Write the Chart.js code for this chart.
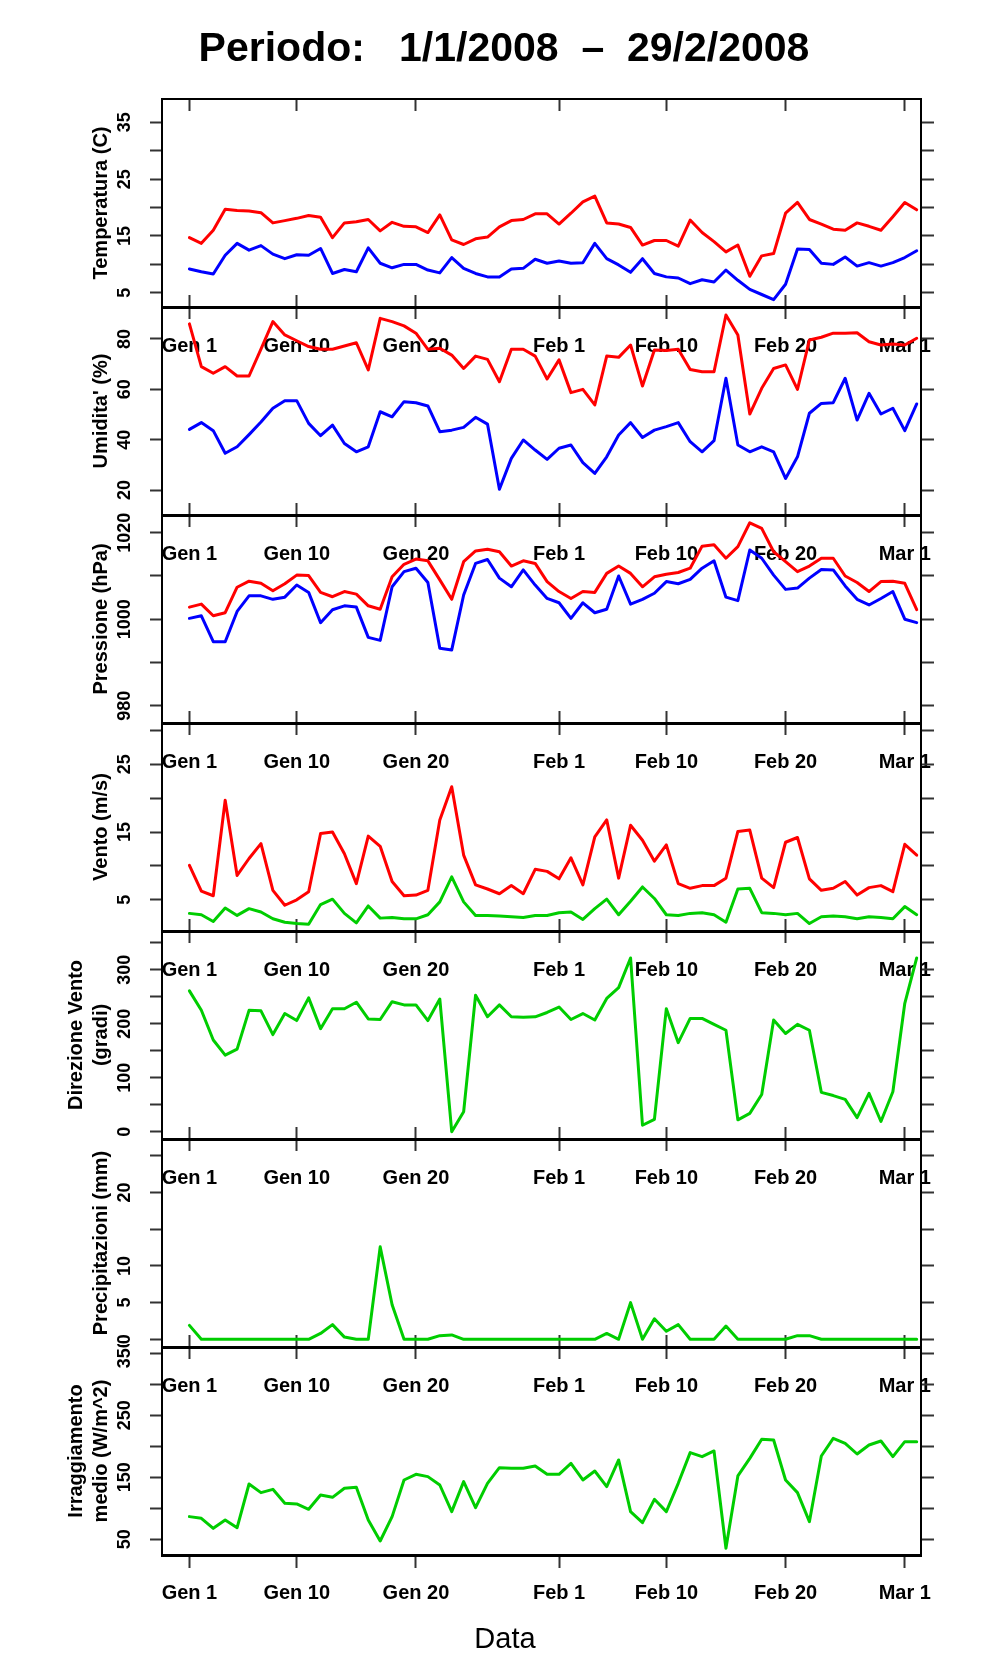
<!DOCTYPE html>
<html><head><meta charset="utf-8">
<script src="https://cdn.jsdelivr.net/npm/chart.js@4.4.1/dist/chart.umd.min.js"></script>
<style>
html,body{margin:0;padding:0;background:#fff;}
#wrap{position:relative;width:996px;height:1680px;overflow:hidden;background:#fff;}
#wrap canvas{position:absolute;left:0;}
</style></head><body><div id="wrap"></div>
<script>
// ---------- DATA ----------
const mainTitle = 'Periodo:   1/1/2008  \u2013  29/2/2008';
const xTitle = 'Data';
const tickDays = [0, 9, 19, 31, 40, 50, 60];
const tickLabels = ['Gen 1', 'Gen 10', 'Gen 20', 'Feb 1', 'Feb 10', 'Feb 20', 'Mar 1'];

const tempMax = [14.7, 13.7, 16.0, 19.7, 19.5, 19.4, 19.1, 17.3, 17.7, 18.1, 18.6, 18.3, 14.7, 17.3, 17.5, 17.9, 15.9, 17.4, 16.7, 16.6, 15.6, 18.7, 14.3, 13.5, 14.5, 14.8, 16.6, 17.7, 17.9, 18.9, 18.9, 17.1, 19.0, 21.0, 22.0, 17.3, 17.1, 16.5, 13.4, 14.2, 14.2, 13.2, 17.8, 15.6, 14.0, 12.2, 13.4, 7.9, 11.5, 11.9, 19.0, 20.9, 17.9, 17.1, 16.2, 16.0, 17.3, 16.7, 16.0, 18.4, 20.9, 19.6];
const tempMin = [9.2, 8.7, 8.3, 11.6, 13.7, 12.5, 13.3, 11.8, 11.0, 11.7, 11.6, 12.8, 8.4, 9.1, 8.7, 12.9, 10.2, 9.4, 10.0, 10.0, 9.0, 8.5, 11.2, 9.3, 8.4, 7.8, 7.8, 9.2, 9.3, 10.9, 10.2, 10.6, 10.2, 10.3, 13.7, 11.0, 9.9, 8.6, 11.0, 8.4, 7.8, 7.6, 6.6, 7.3, 6.9, 9.0, 7.2, 5.6, 4.7, 3.8, 6.5, 12.7, 12.6, 10.2, 10.0, 11.3, 9.7, 10.3, 9.7, 10.3, 11.2, 12.4];
const humMax = [86.0, 69.0, 66.4, 69.0, 65.3, 65.3, 76.0, 86.9, 81.6, 79.3, 77.0, 75.9, 75.9, 77.2, 78.5, 67.7, 88.2, 86.9, 85.2, 82.3, 75.9, 76.3, 73.6, 68.3, 73.2, 71.9, 63.0, 75.9, 75.9, 73.2, 64.1, 71.7, 58.7, 60.0, 53.8, 73.2, 72.7, 77.6, 61.3, 75.6, 75.4, 75.9, 67.9, 67.0, 67.0, 89.5, 81.6, 50.2, 60.4, 68.3, 69.7, 60.0, 79.6, 80.7, 82.3, 82.3, 82.5, 78.9, 77.6, 78.0, 77.6, 80.3];
const humMin = [44.1, 46.8, 43.6, 34.6, 37.2, 42.0, 47.0, 52.5, 55.5, 55.5, 46.5, 41.6, 45.8, 38.5, 35.2, 37.2, 51.1, 49.1, 55.1, 54.7, 53.4, 43.2, 43.8, 44.9, 48.9, 46.2, 20.3, 32.6, 39.9, 35.9, 32.2, 36.6, 37.9, 30.9, 26.6, 33.2, 41.9, 46.8, 40.9, 43.8, 45.2, 46.8, 39.2, 35.2, 39.6, 64.4, 37.9, 35.2, 37.2, 35.2, 24.6, 33.2, 50.5, 54.4, 54.7, 64.4, 47.8, 58.4, 50.2, 52.5, 43.6, 54.2];
const presMax = [1002.8, 1003.5, 1000.8, 1001.5, 1007.4, 1008.8, 1008.3, 1006.6, 1008.2, 1010.2, 1010.1, 1006.2, 1005.2, 1006.4, 1005.8, 1003.1, 1002.3, 1009.8, 1012.7, 1013.9, 1013.5, 1009.1, 1004.6, 1013.3, 1015.8, 1016.2, 1015.6, 1012.3, 1013.5, 1012.9, 1008.7, 1006.4, 1004.8, 1006.4, 1006.2, 1010.6, 1012.3, 1010.6, 1007.5, 1009.8, 1010.4, 1010.8, 1011.8, 1016.9, 1017.2, 1014.1, 1016.8, 1022.3, 1021.0, 1015.6, 1013.3, 1011.0, 1012.3, 1014.1, 1014.1, 1010.0, 1008.5, 1006.4, 1008.7, 1008.8, 1008.3, 1002.2];
const presMin = [1000.2, 1000.8, 994.8, 994.8, 1001.8, 1005.4, 1005.4, 1004.6, 1005.1, 1007.9, 1006.2, 999.2, 1002.2, 1003.1, 1002.8, 995.8, 995.1, 1007.5, 1011.0, 1011.8, 1008.5, 993.3, 992.9, 1005.6, 1012.9, 1013.8, 1009.5, 1007.5, 1011.4, 1007.9, 1004.8, 1003.8, 1000.2, 1003.8, 1001.5, 1002.3, 1010.0, 1003.5, 1004.6, 1006.0, 1008.7, 1008.2, 1009.2, 1011.8, 1013.5, 1005.1, 1004.3, 1016.0, 1014.1, 1010.2, 1006.9, 1007.2, 1009.5, 1011.5, 1011.4, 1007.7, 1004.6, 1003.3, 1004.8, 1006.4, 1000.0, 999.2];
const windMax = [10.1, 6.3, 5.6, 19.7, 8.6, 11.1, 13.3, 6.4, 4.2, 5.0, 6.2, 14.8, 15.0, 11.8, 7.4, 14.4, 12.9, 7.7, 5.6, 5.7, 6.4, 16.8, 21.7, 11.6, 7.2, 6.6, 5.9, 7.1, 5.9, 9.5, 9.2, 8.1, 11.2, 7.2, 14.3, 16.8, 8.2, 16.0, 13.8, 10.7, 13.1, 7.4, 6.7, 7.1, 7.1, 8.2, 15.1, 15.3, 8.2, 6.8, 13.5, 14.2, 8.1, 6.4, 6.7, 7.7, 5.7, 6.8, 7.1, 6.2, 13.2, 11.6];
const windAvg = [3.0, 2.8, 1.8, 3.8, 2.7, 3.7, 3.2, 2.2, 1.7, 1.5, 1.4, 4.3, 5.1, 3.0, 1.6, 4.1, 2.3, 2.4, 2.2, 2.2, 2.8, 4.7, 8.4, 4.7, 2.7, 2.7, 2.6, 2.5, 2.4, 2.7, 2.7, 3.1, 3.2, 2.1, 3.7, 5.1, 2.8, 4.8, 6.9, 5.2, 2.8, 2.7, 3.0, 3.1, 2.8, 1.7, 6.6, 6.7, 3.1, 3.0, 2.8, 3.0, 1.5, 2.5, 2.6, 2.5, 2.2, 2.5, 2.4, 2.2, 4.0, 2.8];
const windDir = [261, 225, 170, 142, 153, 225, 224, 180, 219, 206, 248, 191, 228, 228, 240, 209, 208, 241, 235, 235, 206, 246, 0, 37, 253, 213, 235, 213, 212, 213, 221, 231, 208, 219, 207, 247, 267, 322, 12, 23, 228, 165, 210, 210, 199, 188, 22, 34, 69, 207, 182, 199, 188, 73, 67, 60, 26, 71, 19, 74, 238, 322];
const precip = [1.9, 0, 0, 0, 0, 0, 0, 0, 0, 0, 0, 0.8, 2.0, 0.3, 0, 0, 12.6, 4.7, 0, 0, 0, 0.5, 0.6, 0, 0, 0, 0, 0, 0, 0, 0, 0, 0, 0, 0, 0.8, 0, 5.0, 0, 2.8, 1.1, 2.0, 0, 0, 0, 1.8, 0, 0, 0, 0, 0, 0.5, 0.5, 0, 0, 0, 0, 0, 0, 0, 0, 0];
const irrad = [86.6, 83.9, 67.7, 81.2, 68.8, 139.2, 125.3, 130.6, 108.1, 107.0, 98.4, 121.5, 117.7, 132.3, 133.9, 81.2, 47.3, 86.6, 145.7, 154.8, 151.1, 137.6, 94.6, 143.0, 101.1, 140.3, 165.6, 164.5, 164.5, 168.3, 154.8, 154.8, 172.6, 145.7, 160.2, 135.1, 178.0, 94.6, 76.9, 114.5, 94.6, 140.3, 189.8, 183.3, 192.5, 35.5, 152.2, 180.6, 211.3, 210.2, 145.7, 125.3, 78.5, 184.4, 212.9, 204.8, 187.6, 202.2, 208.6, 183.3, 207.5, 207.5];

const tempTicks = [5, 10, 15, 20, 25, 30, 35], tempLabeled = [5, 15, 25, 35];
const humTicks = [20, 40, 60, 80], humLabeled = [20, 40, 60, 80];
const presTicks = [980, 990, 1000, 1010, 1020], presLabeled = [980, 1000, 1020];
const windTicks = [5, 10, 15, 20, 25, 30], windLabeled = [5, 15, 25];
const dirTicks = [0, 50, 100, 150, 200, 250, 300, 350], dirLabeled = [0, 100, 200, 300];
const precTicks = [0, 5, 10, 15, 20, 25], precLabeled = [0, 5, 10, 20];
const irrTicks = [50, 100, 150, 200, 250, 300, 350], irrLabeled = [50, 150, 250, 350];

// ---------- STYLE / LAYOUT ----------
const RED = '#ff0000', BLUE = '#0000ff', GREEN = '#00cd00';
const FAM = "'Liberation Sans', Arial, Helvetica, sans-serif";
const W = 996, FULLH = 1680;
const PLOT_L = 162, PLOT_R = 921, PH = 208;
const TOPS = [99, 307, 515, 723, 931, 1139, 1347];
const XMIN = -2.3, XMAX = 61.36;
const TICKC = '#333';

const panels = [
  {title: 'Temperatura (C)', min: 2.5, max: 39.1, ticks: tempTicks, labeled: tempLabeled, series: [[tempMax, RED], [tempMin, BLUE]]},
  {title: "Umidita' (%)", min: 10.1, max: 92.7, ticks: humTicks, labeled: humLabeled, series: [[humMax, RED], [humMin, BLUE]]},
  {title: 'Pressione (hPa)', min: 976.0, max: 1024.1, ticks: presTicks, labeled: presLabeled, series: [[presMax, RED], [presMin, BLUE]]},
  {title: 'Vento (m/s)', min: 0.4, max: 31.1, ticks: windTicks, labeled: windLabeled, series: [[windMax, RED], [windAvg, GREEN]]},
  {title: ['Direzione Vento', '(gradi)'], min: -13.5, max: 372, ticks: dirTicks, labeled: dirLabeled, series: [[windDir, GREEN]]},
  {title: 'Precipitazioni (mm)', min: -1.05, max: 27.3, ticks: precTicks, labeled: precLabeled, series: [[precip, GREEN]]},
  {title: ['Irraggiamento', 'medio (W/m^2)'], min: 24.7, max: 360.2, ticks: irrTicks, labeled: irrLabeled, series: [[irrad, GREEN]]}
];

const mctx = document.createElement('canvas').getContext('2d');
mctx.font = 'bold 18px ' + FAM;

const wrap = document.getElementById('wrap');

function noPad(s) { s.paddingTop = 0; s.paddingBottom = 0; s.paddingLeft = 0; s.paddingRight = 0; }

panels.forEach((p, i) => {
  const top = TOPS[i];
  const isFirst = i === 0, isLast = i === TOPS.length - 1;
  const cTop = isFirst ? 0 : top - 3;
  const cBottom = isLast ? FULLH : top + PH + 62;
  const H = cBottom - cTop;
  const padLeft = isFirst ? 12 : (isLast ? 14 : 0);
  const padTop = isFirst ? 0 : 3;
  const areaBottom = top + PH - cTop;

  const plugins = {legend: {display: false}, tooltip: {enabled: false}, title: {display: false}};
  let titleBox = 0;
  if (isFirst) {
    const lh = 41 * 1.2;
    const pt = 49.5 - lh / 2;
    plugins.title = {display: true, text: mainTitle, position: 'top', color: '#000',
      font: {family: FAM, size: 41, weight: 'bold', lineHeight: 1.2},
      padding: {top: pt, bottom: 99 - lh - pt}};
  }
  if (isLast) {
    const lh = 29 * 1.2;
    const pb = (FULLH - 1640) - lh / 2;
    plugins.title = {display: true, text: xTitle, position: 'bottom', color: '#000',
      font: {family: FAM, size: 29, weight: 'normal', lineHeight: 1.2},
      padding: {top: 0, bottom: pb}};
    titleBox = lh + pb;
  }
  const xBottomH = H - areaBottom - titleBox;

  let widest = 0;
  p.labeled.forEach(v => { widest = Math.max(widest, mctx.measureText(String(v)).width); });
  const yPad = Math.max(0, (PLOT_L - 12 - 125) - widest / 2);

  const nLines = Array.isArray(p.title) ? p.title.length : 1;
  const firstLineX = nLines === 1 ? 101 : 76;
  const yTitlePad = firstLineX - 12.5 - padLeft;

  const setX = s => { s.ticks = tickDays.map(v => ({value: v})); };
  const setY = s => { s.ticks = p.ticks.map(v => ({value: v})); };

  const cv = document.createElement('canvas');
  cv.width = W; cv.height = H;
  cv.style.top = cTop + 'px';
  cv.style.width = W + 'px'; cv.style.height = H + 'px';
  wrap.appendChild(cv);

  new Chart(cv, {
    type: 'line',
    data: {
      datasets: p.series.map(([arr, col]) => ({
        data: arr.map((v, k) => ({x: k, y: v})),
        borderColor: col, backgroundColor: col, borderWidth: 3,
        pointRadius: 0, tension: 0, fill: false,
        borderJoinStyle: 'round', borderCapStyle: 'round',
        xAxisID: 'x', yAxisID: 'y'
      }))
    },
    options: {
      responsive: false, animation: false, events: [],
      layout: {padding: {top: padTop, left: padLeft, right: 0, bottom: 0}},
      plugins,
      scales: {
        x: {
          type: 'linear', position: 'bottom', min: XMIN, max: XMAX,
          afterBuildTicks: setX,
          afterFit: s => { s.height = xBottomH; noPad(s); },
          grid: {display: true, drawOnChartArea: false, drawTicks: true, tickLength: isLast ? 13 : -12, tickWidth: 2, tickColor: TICKC},
          border: {display: true, width: 3, color: '#000'},
          ticks: {autoSkip: false, minRotation: 0, maxRotation: 0, padding: isLast ? 13 : 39, color: '#000',
            font: {family: FAM, size: 20, weight: 'bold', lineHeight: 1.2},
            callback: v => { const k = tickDays.indexOf(v); return k >= 0 ? tickLabels[k] : ''; }}
        },
        xt: {
          type: 'linear', position: 'top', min: XMIN, max: XMAX,
          afterBuildTicks: setX,
          afterFit: s => { s.height = 0; noPad(s); },
          grid: {display: true, drawOnChartArea: false, drawTicks: true, tickLength: -12, tickWidth: 2, tickColor: TICKC},
          border: {display: true, width: isFirst ? 2 : 3, color: '#000'},
          ticks: {display: false}
        },
        y: {
          type: 'linear', position: 'left', min: p.min, max: p.max,
          afterBuildTicks: setY,
          afterFit: s => { s.width = PLOT_L - padLeft; noPad(s); },
          grid: {display: true, drawOnChartArea: false, drawTicks: true, tickLength: 12, tickWidth: 2, tickColor: TICKC},
          border: {display: true, width: 2, color: '#000'},
          ticks: {autoSkip: false, minRotation: 90, maxRotation: 90, crossAlign: 'center', padding: yPad, color: '#000',
            font: {family: FAM, size: 18, weight: 'bold'},
            callback: v => p.labeled.includes(v) ? String(v) : ''},
          title: {display: true, text: p.title, color: '#000',
            font: {family: FAM, size: 20, weight: 'bold', lineHeight: 1.25},
            padding: {top: yTitlePad, bottom: 0}}
        },
        yr: {
          type: 'linear', position: 'right', min: p.min, max: p.max,
          afterBuildTicks: setY,
          afterFit: s => { s.width = W - PLOT_R; noPad(s); },
          grid: {display: true, drawOnChartArea: false, drawTicks: true, tickLength: 13, tickWidth: 2, tickColor: TICKC},
          border: {display: true, width: 2, color: '#000'},
          ticks: {autoSkip: false, callback: () => ''}
        }
      }
    }
  });
});
</script>
</body></html>
